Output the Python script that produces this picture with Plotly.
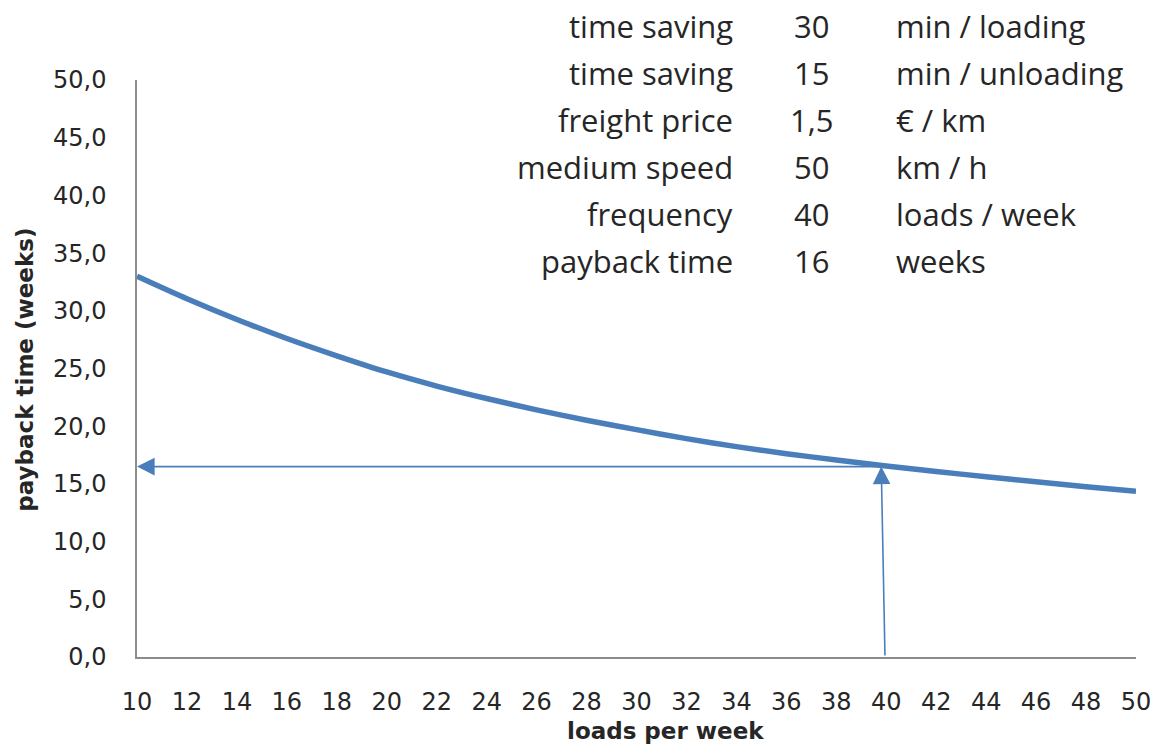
import plotly.graph_objects as go

# ---- data ----
loads_per_week = [10, 12, 14, 16, 18, 20, 22, 24, 26, 28, 30, 32, 34, 36, 38, 40, 42, 44, 46, 48, 50]
payback_weeks = [33.0, 31.05, 29.25, 27.6, 26.1, 24.7, 23.48, 22.4, 21.42, 20.52, 19.7, 18.92, 18.23, 17.62,
                 17.07, 16.56, 16.08, 15.62, 15.18, 14.76, 14.36]
x_ticks = list(range(10, 51, 2))
y_ticks = [0, 5, 10, 15, 20, 25, 30, 35, 40, 45, 50]

marker_frequency = 39.8
marker_payback = 16.5

param_labels = ["time saving", "time saving", "freight price", "medium speed", "frequency", "payback time"]
param_values = ["30", "15", "1,5", "50", "40", "16"]
param_units = ["min / loading", "min / unloading", "€ / km", "km / h", "loads / week", "weeks"]

# ---- style ----
BLUE = "#4A7EBB"
TEXT = "#262626"
AXIS = "#8C8C8C"
FONT = "DejaVu Sans"
TFONT = "Open Sans"

L, R, T, B = 137, 21, 80, 88
W, H = 1163, 745
plot_w = W - L - R
plot_h = H - T - B

fig = go.Figure()
fig.add_trace(go.Scatter(
    x=loads_per_week, y=payback_weeks, mode="lines",
    line=dict(color=BLUE, width=5.5, shape="spline", smoothing=0.8),
    hoverinfo="skip", showlegend=False,
))

annotations = []
# horizontal arrow to the y axis
annotations.append(dict(
    x=loads_per_week[0], y=marker_payback, xref="x", yref="y",
    ax=marker_frequency, ay=marker_payback, axref="x", ayref="y",
    showarrow=True, arrowhead=2, arrowsize=2.2, arrowwidth=1.6, arrowcolor=BLUE,
    text="", standoff=0,
))
# vertical arrow up to the curve
annotations.append(dict(
    x=marker_frequency, y=marker_payback, xref="x", yref="y",
    ax=marker_frequency + 0.15, ay=0, axref="x", ayref="y",
    showarrow=True, arrowhead=2, arrowsize=2.2, arrowwidth=1.6, arrowcolor=BLUE,
    text="", standoff=0,
))

row_px = [26, 73, 120, 167, 214, 261]
for py, lab, val, unit in zip(row_px, param_labels, param_values, param_units):
    yp = (H - B - py) / plot_h
    annotations.append(dict(x=(739 - L) / plot_w, y=yp, xref="paper", yref="paper", text=lab,
                            showarrow=False, xanchor="right", yanchor="middle",
                            font=dict(family=TFONT, size=31, color=TEXT)))
    annotations.append(dict(x=(816 - L) / plot_w, y=yp, xref="paper", yref="paper", text=val,
                            showarrow=False, xanchor="center", yanchor="middle",
                            font=dict(family=TFONT, size=31, color=TEXT)))
    annotations.append(dict(x=(899 - L) / plot_w, y=yp, xref="paper", yref="paper", text=unit,
                            showarrow=False, xanchor="left", yanchor="middle",
                            font=dict(family=TFONT, size=31, color=TEXT)))

# axis titles
annotations.append(dict(x=(669 - L) / plot_w, y=(H - B - 731) / plot_h, xref="paper", yref="paper",
                        text="<b>loads per week</b>", showarrow=False, xanchor="center", yanchor="middle",
                        font=dict(family=FONT, size=23, color=TEXT)))
annotations.append(dict(x=(24 - L) / plot_w, y=(H - B - 370) / plot_h, xref="paper", yref="paper",
                        text="<b>payback time (weeks)</b>", showarrow=False, xanchor="center", yanchor="middle",
                        textangle=-90, font=dict(family=FONT, size=23, color=TEXT)))

fig.update_layout(
    width=W, height=H,
    margin=dict(l=L, r=R, t=T, b=B, pad=0),
    paper_bgcolor="white", plot_bgcolor="white",
    separators=", ",
    annotations=annotations,
    xaxis=dict(range=[10, 50], tickvals=x_ticks, ticktext=[str(v) for v in x_ticks],
               showgrid=False, zeroline=False, showline=True, linecolor=AXIS, linewidth=1.5,
               ticks="", ticklabelstandoff=22,
               tickfont=dict(family=FONT, size=24, color=TEXT)),
    yaxis=dict(range=[0, 50], tickvals=y_ticks, tickformat=".1f",
               showgrid=False, zeroline=False, showline=True, linecolor=AXIS, linewidth=1.5,
               ticks="", ticklabelstandoff=24,
               tickfont=dict(family=FONT, size=24, color=TEXT)),
)

fig.write_html("out.html")
